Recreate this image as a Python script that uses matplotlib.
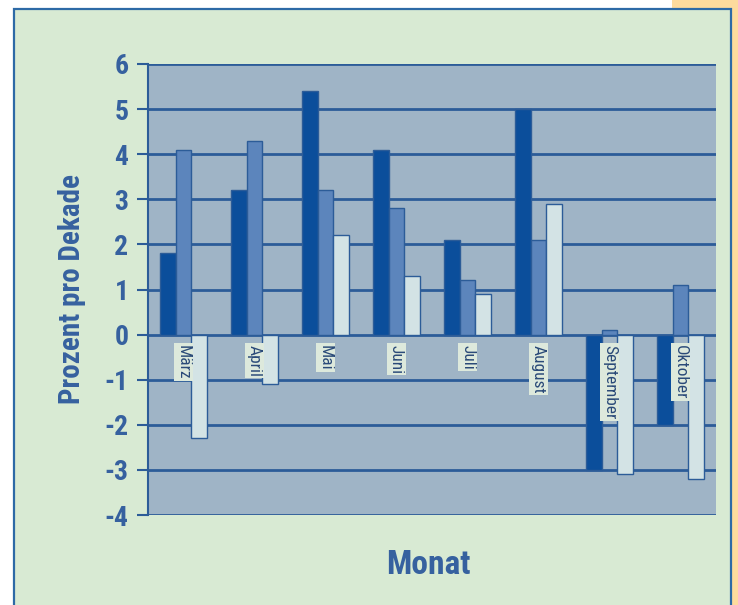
import numpy as np
import matplotlib
matplotlib.use("Agg")
import matplotlib.pyplot as plt
from matplotlib.patches import Rectangle

# Monthly trend per decade, three series per month
months = ["März", "April", "Mai", "Juni", "Juli", "August", "September", "Oktober"]
series_a = [1.8, 3.2, 5.4, 4.1, 2.1, 5.0, -3.0, -2.0]
series_b = [4.1, 4.3, 3.2, 2.8, 1.2, 2.1, 0.1, 1.1]
series_c = [-2.3, -1.1, 2.2, 1.3, 0.9, 2.9, -3.1, -3.2]
y_ticks = [-4, -3, -2, -1, 0, 1, 2, 3, 4, 5, 6]

plt.rcParams["font.family"] = ["Roboto Condensed", "Asap Condensed", "Liberation Sans", "DejaVu Sans"]

txt_blue = "#36619f"
line_blue = "#2c5c98"
bar_colors = ["#0b4e9b", "#5c85bc", "#d3e3e5"]

fig = plt.figure(figsize=(7.38, 6.05), dpi=100)
fig.patch.set_facecolor("white")

# orange strip in the corner and the green panel behind the chart
W, H = 738, 605
fig.patches.append(Rectangle((672 / W, 0), 66 / W, 1, transform=fig.transFigure,
                             facecolor="#fddb9d", edgecolor="none", zorder=0))
fig.patches.append(Rectangle((14 / W, -0.05), (731 - 14) / W, (H - 9) / H + 0.05,
                             transform=fig.transFigure, facecolor="#d8ead3",
                             edgecolor="#2d6aa6", linewidth=1.6, zorder=1))

ax = fig.add_axes([148 / W, 1 - 515 / H, (716 - 148) / W, (515 - 64) / H])
ax.set_facecolor("#9fb4c6")
ax.set_zorder(2)

x = np.arange(len(months))
bw = 0.225
for i, vals in enumerate([series_a, series_b, series_c]):
    ax.bar(x + (i - 1) * bw, vals, bw, color=bar_colors[i], edgecolor=line_blue,
           linewidth=1.0, zorder=3)

# month names sit rotated just under the zero line
for i, m in enumerate(months):
    ax.text(x[i], -0.22, m, rotation=-90, ha="center", va="top", fontsize=12.5,
            color="#2a4a78", zorder=4,
            bbox=dict(boxstyle="square,pad=0.1", facecolor="#dde9dc", edgecolor="none"))

ax.set_xlim(-0.5, len(months) - 0.5)
ax.set_ylim(-4, 6)
ax.set_yticks(y_ticks)
ax.set_yticklabels([str(t) for t in y_ticks], fontsize=20, fontweight="bold", color=txt_blue)
ax.set_xticks([])
ax.yaxis.grid(True, color=line_blue, linewidth=2.0, zorder=1)
ax.set_axisbelow(True)
ax.tick_params(axis="y", direction="out", length=8, width=1.5, color=line_blue, pad=6)
for side in ["top", "right", "bottom"]:
    ax.spines[side].set_visible(False)
ax.spines["left"].set_color(line_blue)
ax.spines["left"].set_linewidth(1.5)

ax.set_ylabel("Prozent pro Dekade", fontsize=21, fontweight="bold", color=txt_blue, labelpad=13)
fig.text(428 / W, 1 - 565 / H, "Monat", fontsize=24, fontweight="bold", color=txt_blue,
         ha="center", va="center", zorder=3)

fig.savefig("out.png", dpi=100)
